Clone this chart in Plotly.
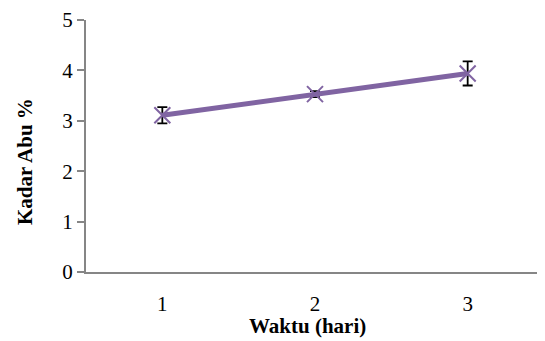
import plotly.graph_objects as go

hari = ["1", "2", "3"]
kadar_abu = [3.11, 3.53, 3.94]
galat = [0.16, 0.06, 0.24]

fig = go.Figure()
fig.add_trace(go.Scatter(
    x=hari, y=kadar_abu,
    mode="lines+markers",
    line=dict(color="#8064A2", width=5),
    marker=dict(symbol="x-thin", size=16, line=dict(color="#8064A2", width=2), color="#8064A2"),
    error_y=dict(type="data", array=galat, visible=True, color="black", thickness=1.8, width=5),
    showlegend=False,
))

font_serif = "Garamond, 'Liberation Serif', 'DejaVu Serif', serif"

# page body has an 8px margin, so figure origin sits at (8, 8) in the window
OFF = 8
W, H = 545 - OFF, 341 - OFF
L, T, R, B = 86 - OFF, 20 - OFF, 1, 69
pw = W - L - R
ph = H - T - B

def px_x(x):
    return (x - OFF - L) / pw

def px_y(y):
    return (T + ph - (y - OFF)) / ph

fig.update_layout(
    width=W, height=H,
    margin=dict(l=L, r=R, t=T, b=B, autoexpand=False),
    paper_bgcolor="white", plot_bgcolor="white",
    font=dict(family=font_serif, color="black", size=21),
    xaxis=dict(
        type="category", range=[-0.5, 2.5], automargin=False,
        showline=True, linecolor="#868686", linewidth=2,
        ticks="", showgrid=False, zeroline=False,
        ticklabelstandoff=12,
        tickfont=dict(size=21, family=font_serif),
    ),
    yaxis=dict(
        range=[0, 5], dtick=1, automargin=False,
        showline=True, linecolor="#868686", linewidth=2,
        ticks="outside", ticklen=7, tickcolor="#868686", tickwidth=1.5,
        showgrid=False, zeroline=False,
        tickfont=dict(size=21, family=font_serif),
    ),
    annotations=[
        dict(text="<b>Waktu (hari)</b>", xref="paper", yref="paper",
             x=px_x(307), y=px_y(326), xanchor="center", yanchor="middle",
             showarrow=False, font=dict(size=21, family=font_serif)),
        dict(text="<b>Kadar Abu %</b>", xref="paper", yref="paper",
             x=px_x(25), y=px_y(162), xanchor="center", yanchor="middle",
             textangle=-90, showarrow=False, font=dict(size=21, family=font_serif)),
    ],
)

fig.write_html("out.html")
